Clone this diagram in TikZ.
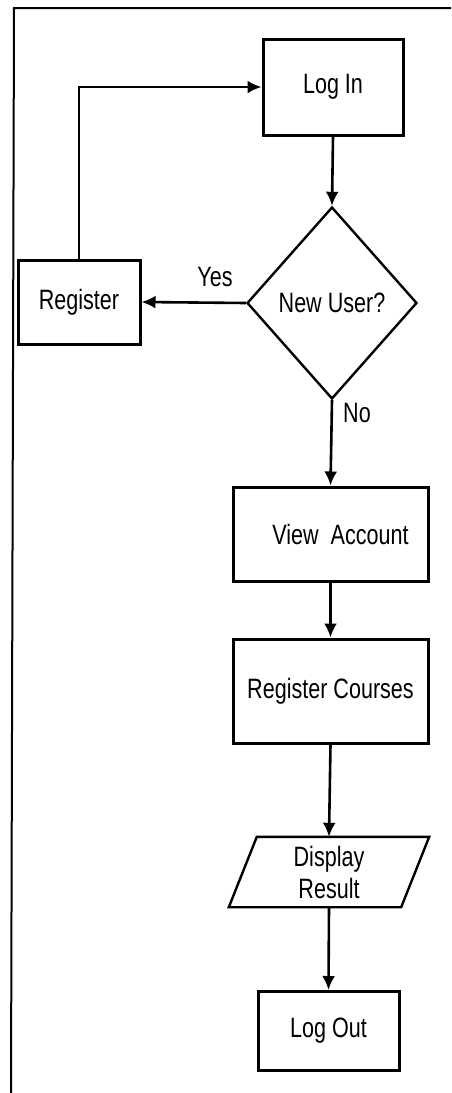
\documentclass[tikz,border=0pt]{standalone}
\usepackage{fontspec}
\setmainfont{Liberation Sans}[FakeStretch=0.77]
\usetikzlibrary{shapes.geometric,arrows.meta}
\begin{document}
\begin{tikzpicture}[x=1pt,y=-1pt,
  every node/.style={font=\fontsize{28}{32}\selectfont},
  box/.style={draw, line width=3pt, inner sep=0pt},
  decision/.style={draw, diamond, line width=2.4pt, inner sep=0pt},
  flow/.style={line width=2.6pt, -{Latex[length=14pt,width=13pt]}},
  lbl/.style={inner sep=0pt}]
\useasboundingbox (0,0) rectangle (451,1093);

% page frame
\draw[line width=2pt] (451,8) -- (14,8) -- (11,1093);

% process steps
\node[box, minimum width=140, minimum height=96] (login) at (333,87) {Log In};
\node[decision, minimum width=170, minimum height=192] (newuser) at (332,303) {New User?};
\node[box, minimum width=122, minimum height=84] (reg) at (79,302) {Register};
\node[box, minimum width=195, minimum height=94] (view) at (330.5,534) {\hspace*{20pt}View\ \ Account};
\node[box, minimum width=195, minimum height=104] (regc) at (330.5,691) {Register Courses};
\node[inner sep=0pt, minimum width=172, minimum height=70, align=center] (disp) at (329,872) {Display\\Result};
\draw[line width=2.4pt] ([xshift=14]disp.north west) -- ([xshift=14]disp.north east)
  -- ([xshift=-14]disp.south east) -- ([xshift=-14]disp.south west) -- cycle;
\node[box, minimum width=141, minimum height=79] (logout) at (328.5,1031) {Log Out};

% connectors
\draw[flow] (login.south) -- (newuser.north);
\draw[flow] (newuser.west) -- (reg.east);
\draw[flow] (reg.north) |- (login.west);
\draw[flow] (newuser.south) -- (view.north);
\draw[flow] (view.south) -- (regc.north);
\draw[flow] (regc.south) -- (disp.north);
\draw[flow] (disp.south) -- (logout.north);

% branch labels
\node[lbl] (yes) at (215,277) {Yes};
\node[lbl] (no) at (357,413) {No};
\end{tikzpicture}
\end{document}
